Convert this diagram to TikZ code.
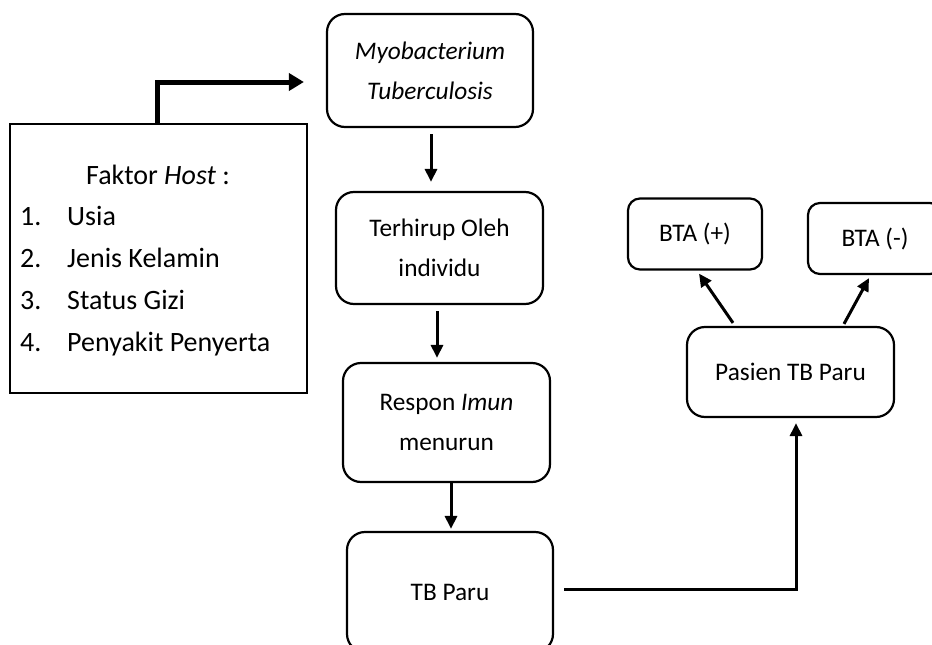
\documentclass[tikz,border=0pt]{standalone}
\usepackage{fontspec}
\setmainfont{Carlito}
\usetikzlibrary{arrows.meta,positioning,calc}

\tikzset{
  stepbox/.style={draw, line width=2.2pt, rounded corners=18pt, align=center,
    inner sep=0pt, font=\fontsize{25.3}{40}\selectfont},
  btabox/.style={stepbox, rounded corners=12pt, minimum width=134pt, minimum height=71pt},
  hostbox/.style={draw, line width=2.2pt, inner sep=0pt, minimum width=297pt, minimum height=269pt},
  hosttext/.style={inner sep=0pt, font=\fontsize{28}{40}\selectfont},
  flow/.style={line width=3pt, -{Triangle[length=13pt,width=12pt]}},
  hostflow/.style={line width=5pt, -{Triangle[length=15pt,width=17pt]}}
}

\begin{document}
\begin{tikzpicture}[x=1pt,y=-1pt]
        \clip (0,0) rectangle (932,645);
        \fill[white] (0,0) rectangle (932,645);
        % main chain
        \node[stepbox, minimum width=206pt, minimum height=113pt] (myco) at (430,70.5)
          {\textit{Myobacterium}\\\textit{Tuberculosis}};
        \node[stepbox, minimum width=207pt, minimum height=112pt] (hirup) at (439.5,248)
          {Terhirup Oleh\\individu};
        \node[stepbox, minimum width=207pt, minimum height=119pt] (imun) at (446.5,422.5)
          {Respon \textit{Imun}\\menurun};
        \node[stepbox, minimum width=206pt, minimum height=120pt] (tbparu) at (450,592)
          {TB Paru};
        % right side
        \node[stepbox, minimum width=207pt, minimum height=90pt] (pasien) at (790.5,372)
          {Pasien TB Paru};
        \node[btabox] (btaplus) at (695,234) {BTA (+)};
        \node[btabox] (btamin) at (875,238.5) {BTA (-)};
        % host factors
        \node[hostbox] (host) at (158.5,258.5) {};
        \node[hosttext, anchor=base] (hosttitle) at (158,184) {Faktor \textit{Host} :};
        \foreach \n/\item in {1/Usia, 2/Jenis Kelamin, 3/Status Gizi, 4/Penyakit Penyerta} {
          \node[hosttext, anchor=base west] (num\n) at (20,{225+42.3*(\n-1)}) {\n.};
          \node[hosttext, anchor=base west] (item\n) at (67,{225+42.3*(\n-1)}) {\item};
        }
        % connectors
        \draw[hostflow] ([xshift=-1.5pt]host.north) |- ([xshift=-22pt,yshift=-11.5pt]myco.west);
        \draw[flow, shorten <=6pt, shorten >=9pt] ([xshift=1pt]myco.south) -- ([xshift=1pt]myco.south |- hirup.north);
        \draw[flow, shorten <=6pt, shorten >=4pt] ([xshift=-2.5pt]hirup.south) -- ([xshift=-2.5pt]hirup.south |- imun.north);
        \draw[flow, shorten >=2pt] ([xshift=4.5pt]imun.south) -- ([xshift=4.5pt]imun.south |- tbparu.north);
        \draw[flow, shorten >=5pt] ([xshift=10pt,yshift=3pt]tbparu.east) -| ([xshift=5.5pt]pasien.south);
        \draw[flow] ([xshift=-57.5pt,yshift=3pt]pasien.north) -- ([xshift=4pt,yshift=-3pt]btaplus.south);
        \draw[flow] ([xshift=53.5pt,yshift=2pt]pasien.north) -- ([xshift=-6pt,yshift=-3pt]btamin.south);
\end{tikzpicture}
\end{document}
